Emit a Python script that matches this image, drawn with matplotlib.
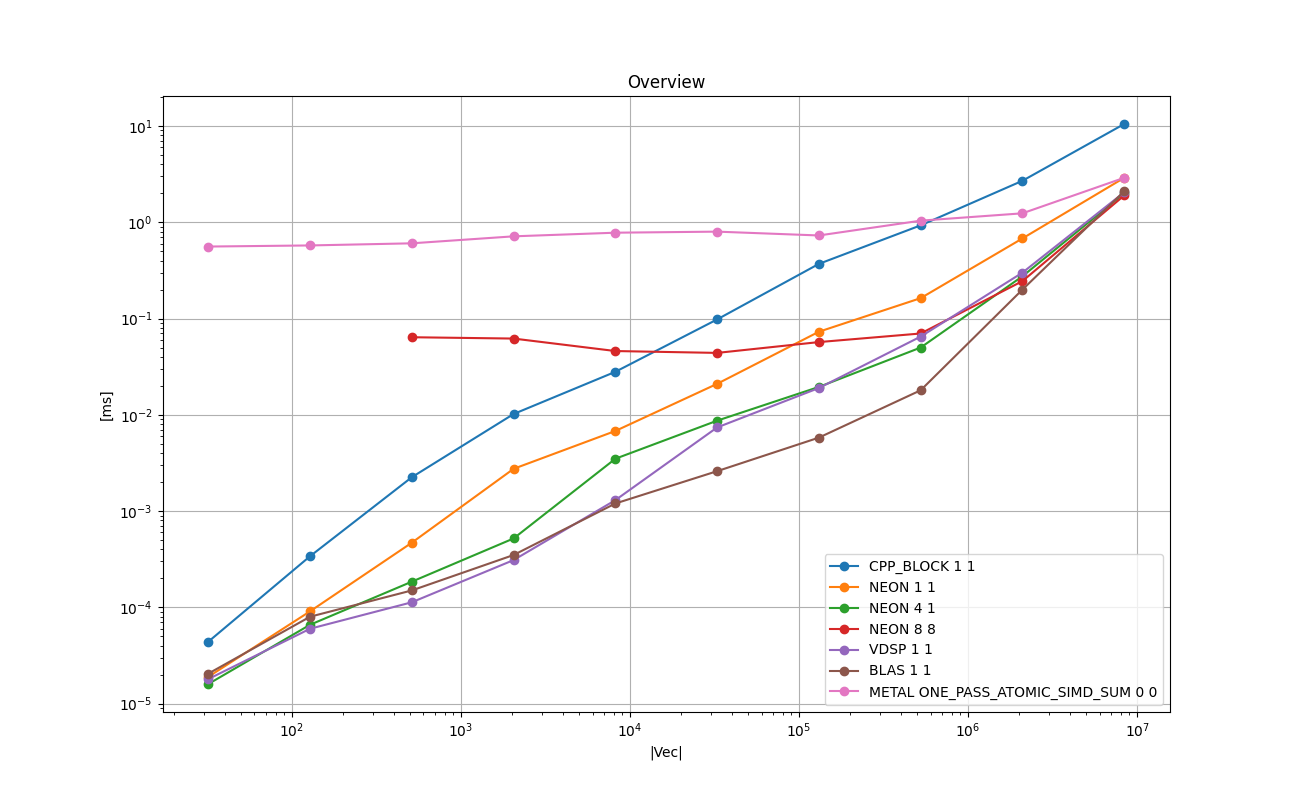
import matplotlib
matplotlib.use("Agg")
import matplotlib.pyplot as plt

sizes = [32, 128, 512, 2048, 8192, 32768, 131072, 524288, 2097152, 8388608]

cpp_block = [4.4e-5, 3.4e-4, 2.25e-3, 1.02e-2, 2.8e-2, 0.098, 0.37, 0.93, 2.7, 10.5]
neon_1_1 = [1.9e-5, 9.1e-5, 4.7e-4, 2.75e-3, 6.8e-3, 2.1e-2, 7.3e-2, 0.163, 0.68, 2.9]
neon_4_1 = [1.6e-5, 6.6e-5, 1.85e-4, 5.2e-4, 3.5e-3, 8.7e-3, 1.95e-2, 0.05, 0.275, 2.0]
neon_8_8_sizes = sizes[2:]
neon_8_8 = [0.064, 0.062, 0.046, 0.044, 0.057, 0.07, 0.245, 1.9]
vdsp = [1.8e-5, 6.0e-5, 1.13e-4, 3.1e-4, 1.3e-3, 7.4e-3, 1.9e-2, 0.065, 0.30, 2.05]
blas = [2.05e-5, 8.0e-5, 1.5e-4, 3.5e-4, 1.2e-3, 2.6e-3, 5.8e-3, 1.8e-2, 0.2, 2.1]
metal = [0.56, 0.575, 0.605, 0.715, 0.78, 0.80, 0.73, 1.04, 1.24, 2.9]

fig, ax = plt.subplots(figsize=(13, 8), dpi=100)
ax.plot(sizes, cpp_block, marker="o", label="CPP_BLOCK 1 1")
ax.plot(sizes, neon_1_1, marker="o", label="NEON 1 1")
ax.plot(sizes, neon_4_1, marker="o", label="NEON 4 1")
ax.plot(neon_8_8_sizes, neon_8_8, marker="o", label="NEON 8 8")
ax.plot(sizes, vdsp, marker="o", label="VDSP 1 1")
ax.plot(sizes, blas, marker="o", label="BLAS 1 1")
ax.plot(sizes, metal, marker="o", label="METAL ONE_PASS_ATOMIC_SIMD_SUM 0 0")
ax.set_xscale("log")
ax.set_yscale("log")
ax.grid(True)
ax.set_title("Overview")
ax.set_xlabel("|Vec|")
ax.set_ylabel("[ms]")
ax.legend(loc="lower right")
fig.savefig("out.png")
